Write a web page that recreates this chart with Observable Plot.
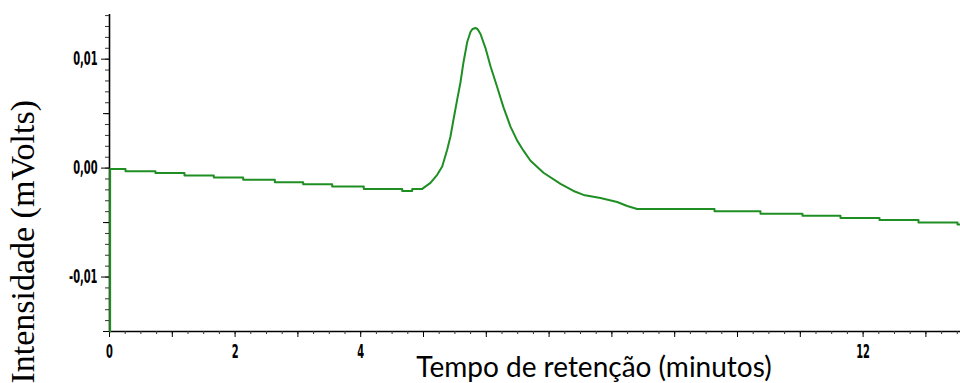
<!DOCTYPE html>
<html>
<head>
<meta charset="utf-8">
<script src="https://cdn.jsdelivr.net/npm/d3@7"></script>
<script src="https://cdn.jsdelivr.net/npm/@observablehq/plot@0.6"></script>
<style>
  body { margin: 0; background: #fff; }
  svg { display: block; }
</style>
</head>
<body>
<div id="chart"></div>
<script>
// Chromatogram: detector signal (mV) against retention time (min)

// Baseline before the peak, held between digitizer steps
const baseTimes  = [0.01, 0.01, 0.255, 0.732, 1.194, 1.661, 2.129, 2.633, 3.084, 3.546, 4.049, 4.661, 4.820, 4.979];
const baseValues = [-0.015, -0.00009, -0.00028, -0.00046, -0.00068, -0.00087, -0.00108, -0.00129, -0.00148, -0.00170, -0.00191, -0.00210, -0.00191, -0.00191];

// Eluting peak
const peakTimes  = [4.979, 5.111, 5.218, 5.298, 5.377, 5.430, 5.478, 5.537, 5.589, 5.637, 5.696, 5.748, 5.780, 5.828, 5.860, 5.908, 5.987, 6.067, 6.174, 6.274, 6.385, 6.492, 6.592, 6.704, 6.911, 7.182, 7.389, 7.548, 7.818, 8.084, 8.244, 8.403];
const peakValues = [-0.00191, -0.00136, -0.00062, 0.00015, 0.00169, 0.00292, 0.00446, 0.00631, 0.00788, 0.00972, 0.01157, 0.01249, 0.01277, 0.01286, 0.01277, 0.01231, 0.01102, 0.00935, 0.00742, 0.00557, 0.00381, 0.00252, 0.00160, 0.00067, -0.00043, -0.00145, -0.00210, -0.00246, -0.00274, -0.00311, -0.00348, -0.00376];

// Baseline after the peak
const tailTimes  = [8.403, 9.634, 10.366, 11.035, 11.640, 12.261, 12.882, 13.503, 13.551];
const tailValues = [-0.00376, -0.00397, -0.00419, -0.00438, -0.00459, -0.00477, -0.00499, -0.00517, -0.00517];

// Axis ticks and labels
const xLabelTicks = [0, 2, 4, 12];
const yLabelTicks = [-0.01, 0, 0.01];
const yLabelText  = ["-0,01", "0,00", "0,01"];

const xTitle = "Tempo de retenção (minutos)";
const yTitle = "Intensidade (mVolts)";

const toRows = (ts, vs) => ts.map((t, i) => ({t, v: vs[i]}));
const base = toRows(baseTimes, baseValues);
const peak = toRows(peakTimes, peakValues);
const tail = toRows(tailTimes, tailValues);

const xMinor = d3.range(0, 55).map(i => i * 0.25);
const xMajor = d3.range(0, 14);
const yMinor = d3.range(-15, 15).map(i => i / 1000);
const yMid   = [-0.015, -0.005, 0.005];

const lineColor = "#1f8f24";
const tickFont = "'DejaVu Sans', sans-serif";

const chart = Plot.plot({
  width: 960,
  height: 383,
  marginLeft: 109,
  marginRight: 0,
  marginTop: 14,
  marginBottom: 52,
  style: {background: "#fff", color: "#000", overflow: "visible"},
  x: {domain: [0, 13.551], axis: null},
  y: {domain: [-0.015, 0.0141], axis: null},
  marks: [
    // axis lines
    Plot.ruleX([0], {stroke: "#000", strokeWidth: 1.6}),
    Plot.ruleY([-0.015], {stroke: "#000", strokeWidth: 1.6}),
    // x ticks
    Plot.axisX({ticks: xMinor, tickSize: 3, tickFormat: () => "", stroke: "#333", label: null}),
    Plot.axisX({ticks: xMajor, tickSize: 6, tickFormat: () => "", stroke: "#000", label: null}),
    Plot.axisX({ticks: xLabelTicks, tickSize: 0, tickPadding: 13, tickFormat: d => String(d), label: null}),
    // y ticks
    Plot.axisY({ticks: yMinor, tickSize: 4, tickFormat: () => "", stroke: "#333", label: null}),
    Plot.axisY({ticks: yMid, tickSize: 6, tickFormat: () => "", stroke: "#000", label: null}),
    Plot.axisY({ticks: yLabelTicks, tickSize: 8, tickPadding: 4, stroke: "#000",
                tickFormat: d => yLabelText[yLabelTicks.indexOf(d)], label: null}),
    // signal
    Plot.line(base, {x: "t", y: "v", curve: "step-after", stroke: lineColor, strokeWidth: 2}),
    Plot.line(peak, {x: "t", y: "v", stroke: lineColor, strokeWidth: 2}),
    Plot.line(tail, {x: "t", y: "v", curve: "step-after", stroke: lineColor, strokeWidth: 2})
  ]
});

// narrow, tall instrument-style tick numerals: squeeze each label about its own anchor
const svg = d3.select(chart);
svg.selectAll("text").each(function() {
  const t = d3.select(this);
  if (!t.text()) return;
  const x = +t.attr("x") || 0;
  const y = +t.attr("y") || 0;
  const tr = t.attr("transform") || "";
  t.style("font-size", "19px")
   .style("font-family", tickFont)
   .style("font-weight", "bold")
   .attr("transform", `${tr} translate(${x},${y}) scale(0.52,1) translate(${-x},${-y})`);
});

// axis titles
svg.append("text")
  .attr("x", 594).attr("y", 377)
  .attr("text-anchor", "middle")
  .style("font-family", "Lato, 'Open Sans', sans-serif")
  .style("font-size", "28px")
  .attr("fill", "#000")
  .text(xTitle);

svg.append("text")
  .attr("transform", "translate(34,100) rotate(-90)")
  .attr("text-anchor", "end")
  .style("font-family", "'Liberation Serif', 'Times New Roman', serif")
  .style("font-size", "34px")
  .attr("fill", "#000")
  .text(yTitle);

document.getElementById("chart").appendChild(chart);
</script>
</body>
</html>
